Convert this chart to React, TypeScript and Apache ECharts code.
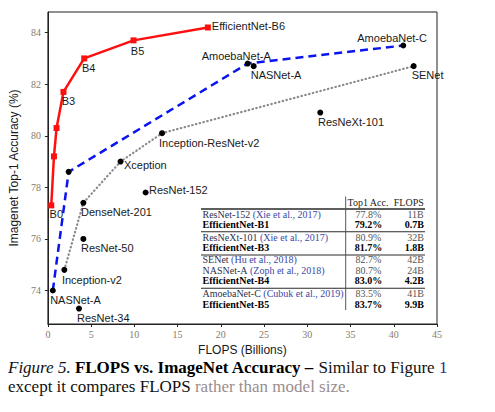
import React, { useEffect, useRef } from "react";
import * as echarts from "echarts";

// ---------- data ----------
const xTicks = [0, 5, 10, 15, 20, 25, 30, 35, 40, 45];
const yTicks = [74, 76, 78, 80, 82, 84];

const effNames = ["B0", "", "", "B3", "B4", "B5", "EfficientNet-B6"];
const effFlops = [0.39, 0.7, 1.0, 1.8, 4.2, 9.9, 18.5];
const effAcc = [77.3, 79.2, 80.3, 81.7, 83.0, 83.7, 84.2];

const nasNames = ["NASNet-A", "", "AmoebaNet-A", "AmoebaNet-C"];
const nasFlops = [0.57, 2.4, 23.1, 41.1];
const nasAcc = [74.0, 78.6, 82.8, 83.5];

const handNames = ["Inception-v2", "DenseNet-201", "Xception", "Inception-ResNet-v2", "SENet"];
const handFlops = [1.9, 4.1, 8.4, 13.2, 42.3];
const handAcc = [74.8, 77.4, 79.0, 80.1, 82.7];

const otherNames = ["ResNet-34", "ResNet-50", "ResNet-152", "ResNeXt-101", "NASNet-A"];
const otherFlops = [3.6, 4.1, 11.3, 31.5, 23.8];
const otherAcc = [73.3, 76.0, 77.8, 80.9, 82.7];

const tableHeader = ["Top1 Acc.", "FLOPS"];
const tableModels = ["ResNet-152", "EfficientNet-B1", "ResNeXt-101", "EfficientNet-B3", "SENet", "NASNet-A", "EfficientNet-B4", "AmoebaNet-C", "EfficientNet-B5"];
const tableCites = ["(Xie et al., 2017)", "", "(Xie et al., 2017)", "", "(Hu et al., 2018)", "(Zoph et al., 2018)", "", "(Cubuk et al., 2019)", ""];
const tableAcc = ["77.8%", "79.2%", "80.9%", "81.7%", "82.7%", "80.7%", "83.0%", "83.5%", "83.7%"];
const tableFlops = ["11B", "0.7B", "32B", "1.8B", "42B", "24B", "4.2B", "41B", "9.9B"];
const tableBold = [false, true, false, true, false, false, true, false, true];

const xTitle = "FLOPS (Billions)";
const yTitle = "Imagenet Top-1 Accuracy (%)";
const captionItalic = "Figure 5.";
const captionBold = "FLOPS vs. ImageNet Accuracy –";
const captionRest = "Similar to Figure";
const captionRef = "1";
const caption2a = "except it compares FLOPS";
const caption2b = "rather than model size.";

// ---------- layout (label offsets, table geometry) ----------
const effLabelOff: (number[] | null)[] = [[-1.7, 9], null, null, [-1.7, 9], [-2.3, 10], [-2.7, 10.4], [4, -1]];
const nasLabelOff: (number[] | null)[] = [[-2.7, 10], null, [-46, -7.3], [-46, -7.4]];
const handLabelOff: (number[] | null)[] = [[-2.4, 10.3], [-2.4, 9], [3.4, 3.7], [-3, 10.3], [-2, 9.3]];
const otherLabelOff: (number[] | null)[] = [[-2, 9], [-2.4, 9.3], [3.4, -2.6], [-2.3, 9], [-3, 9.3]];

const tableRowY = [214.3, 224.3, 237.7, 247.3, 259.3, 270.3, 280.7, 293.3, 304.5];
const tableRuleY = [209, 231.7, 255, 288.3];

const SANS = "'Liberation Sans', Arial, Helvetica, sans-serif";
const SERIF = "'Liberation Serif', 'Times New Roman', serif";
const CAP = 17;
const CAP_LH = 17;

function mkData(xs: number[], ys: number[], names: string[], offs: (number[] | null)[]) {
  return xs.map((x, i) => ({
    value: [x, ys[i]],
    name: names[i],
    label:
      names[i] && offs[i]
        ? {
            show: true,
            formatter: names[i],
            position: "inside",
            align: "left",
            verticalAlign: "middle",
            offset: offs[i],
            color: "#1a1a1a",
            opacity: 1,
            fontSize: 11,
            fontFamily: SANS,
            textBorderWidth: 0,
          }
        : { show: false },
  }));
}

export default function App() {
  const ref = useRef<HTMLDivElement>(null);
  useEffect(() => {
    const chart = echarts.init(ref.current!, null, { renderer: "svg" });

    const tableEls: any[] = [];
    tableRuleY.forEach((y, i) => {
      tableEls.push({
        type: "line",
        shape: { x1: 201, y1: y, x2: 425, y2: y },
        style: { stroke: "#2a2a2a", lineWidth: i === 0 ? 1.3 : 1.1 },
        silent: true,
      });
    });
    tableEls.push({
      type: "line",
      shape: { x1: 345.7, y1: 196.5, x2: 345.7, y2: 310 },
      style: { stroke: "#555", lineWidth: 1 },
      silent: true,
    });
    tableEls.push({
      type: "text",
      x: 347.5,
      y: 202.7,
      style: { text: tableHeader[0], fontFamily: SERIF, fontSize: 10, fill: "#222", align: "left", textAlign: "left", verticalAlign: "middle", textVerticalAlign: "middle" },
      silent: true,
    });
    tableEls.push({
      type: "text",
      x: 423.8,
      y: 202.7,
      style: { text: tableHeader[1], fontFamily: SERIF, fontSize: 10, fill: "#222", align: "right", textAlign: "right", verticalAlign: "middle", textVerticalAlign: "middle" },
      silent: true,
    });
    tableModels.forEach((m, i) => {
      const bold = tableBold[i];
      const y = tableRowY[i];
      const nameText = tableCites[i] ? `{n|${m}} {c|${tableCites[i]}}` : `{n|${m}}`;
      tableEls.push({
        type: "text",
        x: 202.5,
        y,
        style: {
          text: nameText,
          fontFamily: SERIF,
          fontSize: 10,
          align: "left",
          textAlign: "left",
          verticalAlign: "middle",
          textVerticalAlign: "middle",
          rich: {
            n: { fontFamily: SERIF, fontSize: 10, lineHeight: 10, fontWeight: bold ? "bold" : "normal", fill: bold ? "#000" : "#2c3150", color: bold ? "#000" : "#2c3150" },
            c: { fontFamily: SERIF, fontSize: 10, lineHeight: 10, fill: "#3a48a8", color: "#3a48a8" },
          },
        },
        silent: true,
      });
      tableEls.push({
        type: "text",
        x: 368.5,
        y,
        style: { text: tableAcc[i], fontFamily: SERIF, fontSize: 10, fontWeight: bold ? "bold" : "normal", fill: bold ? "#000" : "#555", align: "center", textAlign: "center", verticalAlign: "middle", textVerticalAlign: "middle" },
        silent: true,
      });
      tableEls.push({
        type: "text",
        x: 423.8,
        y,
        style: { text: tableFlops[i], fontFamily: SERIF, fontSize: 10, fontWeight: bold ? "bold" : "normal", fill: bold ? "#000" : "#555", align: "right", textAlign: "right", verticalAlign: "middle", textVerticalAlign: "middle" },
        silent: true,
      });
    });

    const captionEls: any[] = [
      {
        type: "text",
        x: 8,
        y: 367,
        style: {
          text: `{i|${captionItalic}} {b|${captionBold}} {n|${captionRest}} {r|${captionRef}}`,
          fontFamily: SERIF,
          fontSize: CAP,
          lineHeight: CAP_LH,
          align: "left",
          textAlign: "left",
          verticalAlign: "middle",
          textVerticalAlign: "middle",
          rich: {
            i: { fontFamily: SERIF, fontSize: CAP, lineHeight: CAP_LH, fontStyle: "italic", fill: "#111", color: "#111" },
            b: { fontFamily: SERIF, fontSize: CAP, lineHeight: CAP_LH, fontWeight: "bold", fill: "#000", color: "#000" },
            n: { fontFamily: SERIF, fontSize: CAP, lineHeight: CAP_LH, fill: "#111", color: "#111" },
            r: { fontFamily: SERIF, fontSize: CAP, lineHeight: CAP_LH, fill: "#2a2f90", color: "#2a2f90" },
          },
        },
        silent: true,
      },
      {
        type: "text",
        x: 8,
        y: 386,
        style: {
          text: `{n|${caption2a}} {g|${caption2b}}`,
          fontFamily: SERIF,
          fontSize: CAP,
          lineHeight: CAP_LH,
          align: "left",
          textAlign: "left",
          verticalAlign: "middle",
          textVerticalAlign: "middle",
          rich: {
            n: { fontFamily: SERIF, fontSize: CAP, lineHeight: CAP_LH, fill: "#111", color: "#111" },
            g: { fontFamily: SERIF, fontSize: CAP, lineHeight: CAP_LH, fill: "#9a8c8c", color: "#9a8c8c" },
          },
        },
        silent: true,
      },
    ];

    const option: any = {
      animation: false,
      backgroundColor: "#fff",
      grid: { left: 45, right: 58, top: 12, bottom: 88, show: true, borderColor: "#222", borderWidth: 1, containLabel: false },
      xAxis: {
        type: "value",
        min: xTicks[0],
        max: xTicks[xTicks.length - 1],
        interval: 5,
        name: xTitle,
        nameLocation: "middle",
        nameGap: 13,
        nameTextStyle: { fontFamily: SANS, fontSize: 12, lineHeight: 13, color: "#1a1a1a" },
        axisLine: { show: true, lineStyle: { color: "#222", width: 1 } },
        axisTick: { show: true, inside: false, length: 3, lineStyle: { color: "#222" } },
        axisLabel: { margin: 5, fontFamily: SERIF, fontSize: 10, color: "#877a6a", showMinLabel: true, showMaxLabel: true },
        splitLine: { show: false },
      },
      yAxis: {
        type: "value",
        min: 72.7,
        max: 84.8,
        name: yTitle,
        nameLocation: "middle",
        nameGap: 20,
        nameTextStyle: { fontFamily: SANS, fontSize: 12, color: "#1a1a1a" },
        axisLine: { show: true, lineStyle: { color: "#222", width: 1 } },
        axisTick: { show: true, inside: false, length: 3, lineStyle: { color: "#222" }, customValues: yTicks },
        axisLabel: { margin: 7, fontFamily: SERIF, fontSize: 10, color: "#877a6a", customValues: yTicks },
        splitLine: { show: false },
      },
      series: [
        {
          type: "line",
          name: "hand",
          data: mkData(handFlops, handAcc, handNames, handLabelOff),
          symbol: "circle",
          symbolSize: 6,
          itemStyle: { color: "#000", opacity: 1 },
          lineStyle: { color: "#8a8a8a", width: 2.2, type: [0.5, 3.4], cap: "round" },
          z: 2,
        },
        {
          type: "line",
          name: "nas",
          data: mkData(nasFlops, nasAcc, nasNames, nasLabelOff),
          symbol: "circle",
          symbolSize: 6,
          itemStyle: { color: "#000", opacity: 1 },
          lineStyle: { color: "#0a14f0", width: 2.5, type: [8, 5] },
          z: 3,
        },
        {
          type: "scatter",
          name: "other",
          data: mkData(otherFlops, otherAcc, otherNames, otherLabelOff),
          symbol: "circle",
          symbolSize: 6,
          itemStyle: { color: "#000", opacity: 1 },
          z: 4,
        },
        {
          type: "line",
          name: "eff",
          data: mkData(effFlops, effAcc, effNames, effLabelOff),
          symbol: "rect",
          symbolSize: 6,
          itemStyle: { color: "#ff1010", opacity: 1 },
          lineStyle: { color: "#ff1010", width: 2.5 },
          z: 5,
        },
      ],
      graphic: [...tableEls, ...captionEls],
    };

    chart.setOption(option);
    return () => chart.dispose();
  }, []);

  return (
    <div
      ref={ref}
      style={{ position: "fixed", left: 0, top: 0, width: 495, height: 412, background: "#fff" }}
    />
  );
}
